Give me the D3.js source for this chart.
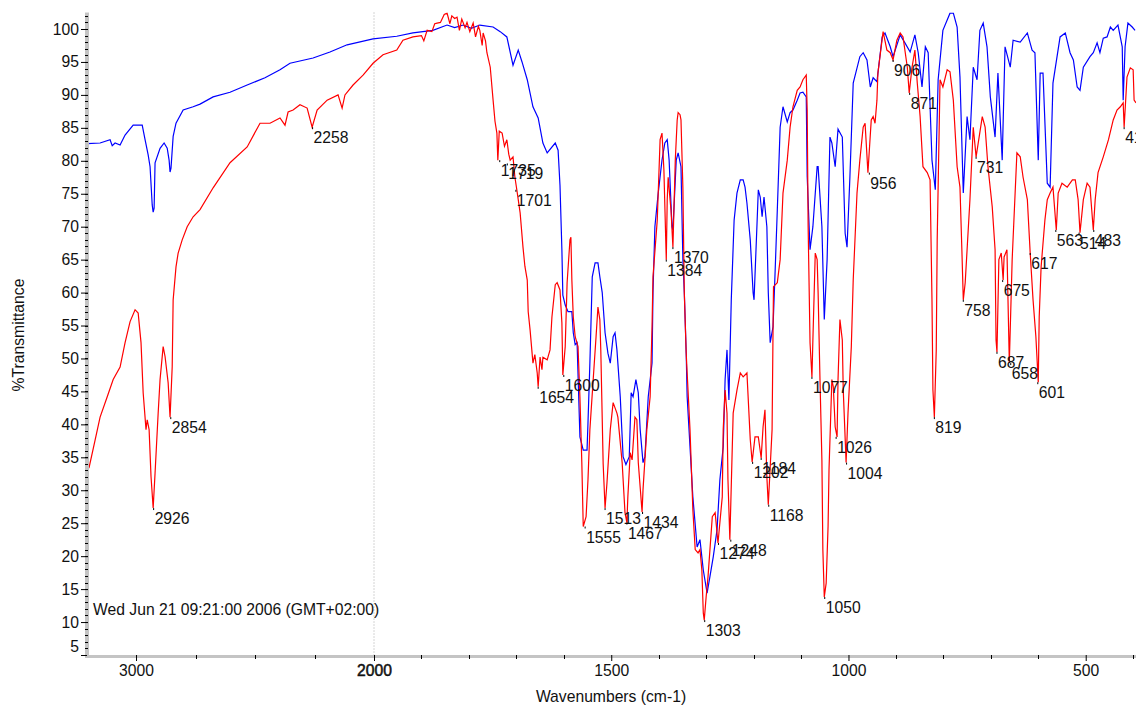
<!DOCTYPE html>
<html>
<head>
<meta charset="utf-8">
<script src="https://cdn.jsdelivr.net/npm/d3@7"></script>
<style>
body { margin: 0; background: #fff; }
svg { display: block; font-family: "Liberation Sans", Arial, sans-serif; }
</style>
</head>
<body>
<svg width="1136" height="706"></svg>
<script>
// Spectra: [wavenumber cm-1, %T]
var blueSpectrum = [
  [3205,82.6],[3151,82.7],[3109,83.2],[3100,82.3],[3088,82.7],[3067,82.4],[3046,83.9],[3012,85.4],[2974,85.4],
  [2962,83.2],[2949,80.9],[2941,79.1],[2932,73.3],[2928,72.2],[2924,72.8],[2920,79.7],[2899,81.9],[2882,82.7],
  [2869,81.9],[2861,80.1],[2857,78.3],[2853,78.9],[2844,83.7],[2832,85.7],[2802,87.7],[2760,88.2],[2731,88.6],
  [2676,89.7],[2605,90.4],[2533,91.5],[2458,92.6],[2395,93.8],[2353,94.8],[2256,95.6],[2185,96.5],[2113,97.6],
  [2004,98.5],[1952,98.9],[1918,99.4],[1876,99.8],[1846,100.6],[1830,100.2],[1812,100.6],[1795,100.1],[1777,100.6],
  [1749,100.3],[1734,99.6],[1720,98.8],[1707,94.5],[1696,96.8],[1688,95.0],[1677,92.3],[1665,88.2],[1654,86.5],
  [1644,82.7],[1635,81.2],[1618,82.7],[1612,81.6],[1608,76.3],[1604,66.5],[1602,59.6],[1597,58.1],[1591,57.1],
  [1583,57.1],[1580,53.9],[1576,52.1],[1572,52.4],[1566,38.1],[1559,36.1],[1551,36.1],[1549,40.2],[1545,49.3],
  [1540,62.4],[1534,64.5],[1528,64.5],[1524,62.4],[1519,60.0],[1513,53.9],[1507,50.8],[1502,49.3],[1496,53.3],
  [1492,53.9],[1488,51.3],[1481,44.2],[1475,35.1],[1469,33.9],[1462,35.1],[1458,44.8],[1454,44.2],[1448,46.8],
  [1443,44.8],[1439,39.2],[1433,34.2],[1429,35.1],[1422,44.2],[1414,49.3],[1412,60.0],[1408,70.0],[1401,75.1],
  [1393,80.1],[1387,82.7],[1382,83.2],[1378,80.1],[1372,70.0],[1370,69.5],[1363,80.1],[1359,81.2],[1353,79.1],
  [1349,65.0],[1346,60.0],[1342,50.8],[1340,44.2],[1334,36.6],[1328,29.0],[1319,21.4],[1313,22.5],[1306,17.9],
  [1298,14.4],[1292,16.9],[1285,19.9],[1277,24.0],[1271,31.6],[1264,36.6],[1260,46.8],[1256,51.3],[1252,43.7],
  [1247,58.9],[1241,71.0],[1235,75.1],[1228,77.1],[1222,77.1],[1218,76.0],[1214,73.6],[1207,68.0],[1201,60.0],
  [1199,58.9],[1193,70.0],[1190,75.6],[1186,74.5],[1182,71.5],[1178,74.5],[1172,70.0],[1169,60.0],[1165,52.4],
  [1159,54.8],[1155,62.4],[1150,72.5],[1144,85.1],[1138,88.2],[1129,85.9],[1123,87.3],[1117,87.7],[1108,89.2],
  [1102,90.3],[1096,90.4],[1089,89.7],[1087,77.6],[1081,66.5],[1075,70.0],[1066,79.1],[1064,79.1],[1056,70.0],
  [1051,55.9],[1045,65.0],[1039,83.6],[1035,82.7],[1028,79.1],[1022,84.8],[1013,83.6],[1007,69.0],[1003,66.9],
  [997,77.5],[990,91.8],[976,95.8],[969,96.4],[961,95.3],[954,91.2],[948,92.6],[940,92.0],[929,98.8],[923,99.4],
  [912,97.3],[906,95.8],[891,99.1],[881,97.9],[870,96.5],[860,99.1],[853,96.4],[845,91.2],[838,97.3],[832,96.4],
  [824,80.1],[817,75.6],[811,92.3],[801,99.8],[786,102.4],[779,102.4],[771,100.3],[765,92.7],[758,75.1],[750,86.7],
  [744,83.2],[737,94.2],[729,92.3],[723,99.8],[716,100.9],[708,97.3],[701,89.7],[691,83.6],[685,93.3],[676,80.1],
  [670,97.3],[659,94.2],[653,98.3],[638,98.0],[623,99.4],[613,96.8],[607,96.4],[600,80.1],[596,93.3],[590,93.3],
  [581,76.6],[575,76.0],[569,91.8],[554,98.8],[543,99.4],[533,96.4],[526,95.3],[518,91.2],[512,90.7],[505,94.2],
  [491,95.8],[484,96.4],[476,97.9],[470,96.4],[463,98.6],[455,98.8],[448,100.3],[442,99.8],[432,100.6],[423,97.3],
  [421,89.2],[417,97.3],[411,100.9],[402,100.3],[396,99.8]
];

var redSpectrum = [
  [3205,33.0],[3197,33.5],[3172,37.6],[3151,41.1],[3121,44.2],[3096,46.8],[3067,48.7],[3046,52.4],[3025,55.6],
  [3004,57.4],[2991,56.9],[2979,52.4],[2970,44.8],[2958,39.2],[2953,40.7],[2945,39.2],[2937,32.1],[2928,27.3],
  [2920,32.6],[2907,41.7],[2899,46.8],[2886,51.8],[2878,50.3],[2865,46.3],[2857,41.1],[2848,48.7],[2844,58.9],
  [2832,63.9],[2823,66.0],[2806,68.0],[2785,70.0],[2760,71.5],[2731,72.6],[2676,75.9],[2605,79.7],[2533,82.1],
  [2479,85.7],[2437,85.7],[2395,86.5],[2374,85.4],[2361,87.4],[2340,87.7],[2311,88.5],[2281,88.0],[2260,85.1],
  [2239,87.7],[2197,89.2],[2151,90.0],[2134,88.0],[2122,90.0],[2088,91.5],[2046,93.0],[2004,94.8],[1981,96.1],
  [1952,96.8],[1939,98.3],[1918,98.8],[1900,99.0],[1895,98.2],[1888,99.8],[1878,99.6],[1872,100.8],[1867,100.9],
  [1860,101.0],[1852,102.2],[1846,102.4],[1840,100.8],[1836,102.0],[1830,101.6],[1825,101.8],[1820,99.8],
  [1815,101.5],[1808,100.2],[1804,101.0],[1798,99.6],[1791,100.9],[1786,98.8],[1780,100.4],[1777,99.8],
  [1772,97.5],[1770,99.4],[1765,98.2],[1762,96.4],[1755,94.2],[1749,89.2],[1745,86.0],[1741,84.2],[1739,80.1],
  [1736,84.5],[1730,84.2],[1725,82.2],[1720,83.2],[1716,81.0],[1713,80.1],[1707,80.6],[1703,77.5],[1699,75.6],
  [1692,72.1],[1686,66.9],[1682,64.0],[1677,61.9],[1675,57.1],[1671,54.3],[1665,49.3],[1661,50.6],[1656,47.8],
  [1654,45.7],[1650,50.2],[1646,48.3],[1644,50.2],[1635,49.8],[1629,51.3],[1625,56.3],[1618,61.2],[1614,61.5],
  [1608,60.4],[1604,55.4],[1602,47.5],[1597,51.8],[1593,61.5],[1587,68.0],[1585,68.4],[1583,61.9],[1580,56.3],
  [1576,53.3],[1570,51.8],[1566,44.2],[1562,34.2],[1559,24.5],[1553,26.0],[1549,31.6],[1545,39.2],[1538,46.8],
  [1532,53.3],[1528,57.8],[1524,55.9],[1522,51.3],[1517,34.0],[1513,27.3],[1509,31.1],[1502,39.2],[1496,43.3],
  [1488,41.7],[1486,41.1],[1477,34.2],[1471,26.6],[1467,25.1],[1465,29.0],[1460,35.7],[1456,34.6],[1450,41.1],
  [1446,40.7],[1443,34.2],[1435,26.7],[1433,30.1],[1425,39.2],[1418,44.2],[1414,54.8],[1412,62.4],[1403,71.0],
  [1397,83.2],[1393,84.2],[1389,78.6],[1384,65.0],[1382,74.1],[1380,77.5],[1376,74.1],[1374,72.5],[1370,66.9],
  [1365,80.1],[1361,86.2],[1359,87.3],[1355,87.0],[1353,86.2],[1349,76.0],[1346,60.0],[1342,50.8],[1340,47.8],
  [1334,39.2],[1328,27.1],[1323,21.0],[1317,20.5],[1313,21.0],[1309,17.9],[1306,11.4],[1304,10.3],[1300,13.8],
  [1296,16.9],[1287,26.0],[1281,26.6],[1275,22.0],[1266,29.0],[1264,39.2],[1260,45.2],[1256,41.7],[1254,31.6],
  [1250,22.5],[1243,41.7],[1235,45.2],[1228,47.8],[1222,47.2],[1214,47.8],[1207,37.7],[1203,34.3],[1197,38.1],
  [1190,38.1],[1184,34.9],[1180,39.6],[1176,42.2],[1172,32.0],[1169,27.8],[1161,39.2],[1159,54.3],[1158,60.9],
  [1150,61.5],[1144,65.0],[1138,75.1],[1129,80.1],[1123,85.1],[1117,88.2],[1108,90.7],[1102,91.2],[1096,92.3],
  [1089,93.0],[1087,87.7],[1085,70.0],[1081,52.4],[1077,47.2],[1075,52.8],[1070,66.0],[1066,65.0],[1064,60.0],
  [1060,46.7],[1056,34.6],[1054,21.0],[1051,13.8],[1047,15.9],[1043,24.5],[1041,33.1],[1035,46.8],[1032,45.7],
  [1028,39.6],[1024,38.1],[1022,46.8],[1018,55.9],[1013,52.8],[1011,45.2],[1005,34.2],[1001,41.7],[994,51.8],
  [990,61.9],[982,75.1],[976,80.1],[969,85.1],[965,85.7],[959,78.2],[952,86.2],[948,86.7],[944,85.7],[940,89.2],
  [938,93.3],[927,99.6],[919,96.8],[912,96.4],[906,95.3],[898,98.3],[891,99.4],[885,98.8],[876,94.2],[872,90.3],
  [866,94.2],[860,96.8],[855,91.8],[849,86.7],[843,79.1],[834,78.2],[828,77.1],[824,58.9],[822,45.2],[819,41.1],
  [815,51.3],[813,68.0],[807,92.3],[801,91.2],[792,93.8],[786,93.5],[779,89.2],[771,79.1],[765,76.0],[761,66.5],
  [758,58.9],[754,61.5],[750,66.5],[744,74.1],[737,85.1],[731,80.6],[718,86.7],[712,85.1],[706,79.1],[697,73.0],
  [691,66.5],[689,52.8],[687,51.0],[683,65.0],[678,66.0],[674,61.9],[672,65.4],[666,66.5],[661,49.3],[655,65.0],
  [645,81.2],[638,80.6],[632,77.5],[623,74.1],[617,66.0],[611,58.9],[605,53.3],[600,46.4],[598,56.3],[594,63.9],
  [586,71.0],[581,74.1],[575,75.1],[569,76.0],[562,69.5],[558,75.1],[550,76.6],[539,76.0],[528,77.1],[522,77.1],
  [516,74.1],[512,69.1],[505,74.1],[497,76.6],[491,76.0],[484,69.5],[480,74.1],[474,78.2],[463,80.6],[452,83.2],
  [442,86.2],[434,87.7],[427,88.2],[421,88.8],[419,85.1],[413,92.7],[406,94.1],[400,93.8],[398,89.2],[394,88.8]
];

// Marked peaks of the red spectrum: label, %T at the tip
var peakLabels = [2926,2854,2258,1735,1719,1701,1654,1600,1555,1513,1467,1434,1384,1370,1303,1274,1248,1202,1184,1168,
  1077,1050,1026,1004,956,906,871,819,758,731,687,675,658,617,601,563,514,483,419];
var peakTransmittance = [27.3,41.1,85.1,80.1,79.6,75.6,45.7,47.5,24.5,27.3,25.1,26.7,65.0,66.9,10.3,22.0,22.5,34.3,34.9,27.8,
  47.2,13.8,38.1,34.2,78.2,95.3,90.3,41.1,58.9,80.6,51.0,61.9,49.3,66.0,46.4,69.5,69.1,69.5,85.1];

var xMajorTicks = [3000, 2000, 1500, 1000, 500];
var xMinorTicks = [2750, 2500, 2250, 1900, 1800, 1700, 1600, 1400, 1300, 1200, 1100, 900, 800, 700, 600, 400];
var yMajorTicks = d3.range(5, 101, 5);
var yMinorTicks = d3.range(5, 103, 1);

var dateStamp = "Wed Jun 21 09:21:00 2006 (GMT+02:00)";

var svg = d3.select('svg');
var svgWidth = +svg.attr('width');
var fontSize = '15.7px';

// Wavenumber axis is compressed by half above 2000 cm-1
var xScale = d3.scaleLinear().domain([3206, 2000, 394]).range([87, 374, 1136]);
var yScale = d3.scaleLinear().domain([5, 100]).range([655, 29]);
var plotLeft = 87, plotTop = yScale(102.5), plotBottom = yScale(5);

svg.append('defs').append('clipPath').attr('id', 'plotClip')
  .append('rect')
  .attr('x', plotLeft).attr('y', plotTop)
  .attr('width', svgWidth - plotLeft).attr('height', plotBottom - plotTop);

// dotted line at the scale break
svg.append('line')
  .attr('x1', xScale(2000)).attr('x2', xScale(2000))
  .attr('y1', plotTop).attr('y2', plotBottom)
  .attr('stroke', '#aaa').attr('stroke-dasharray', '1,2');

var line = d3.line()
  .x(function(d) { return xScale(d[0]); })
  .y(function(d) { return yScale(d[1]); });

var curvesG = svg.append('g').attr('clip-path', 'url(#plotClip)');
curvesG.append('path').datum(blueSpectrum)
  .attr('d', line).attr('fill', 'none').attr('stroke', '#0000ff').attr('stroke-width', 1.2);
curvesG.append('path').datum(redSpectrum)
  .attr('d', line).attr('fill', 'none').attr('stroke', '#ff0000').attr('stroke-width', 1.2);

// peak markers and labels
var peaks = peakLabels.map(function(p, i) { return {wn: p, t: peakTransmittance[i]}; });
var peakG = svg.selectAll('.peak').data(peaks).enter().append('g').attr('class', 'peak')
  .attr('transform', function(d) { return 'translate(' + [xScale(d.wn), yScale(d.t)] + ')'; });
peakG.append('line').attr('x1', 0).attr('x2', 0).attr('y1', 0).attr('y2', 2)
  .attr('stroke', '#000').attr('stroke-width', 1);
peakG.append('text')
  .attr('x', 1).attr('y', 16)
  .style('font-size', fontSize).attr('fill', '#111')
  .text(function(d) { return d.wn; });

// left axis
svg.append('rect').attr('x', 85).attr('y', plotTop).attr('width', 4).attr('height', plotBottom - plotTop + 3)
  .attr('fill', '#c4c4c4');
svg.append('g').selectAll('line').data(yMinorTicks).enter().append('line')
  .attr('x1', 85).attr('x2', 88)
  .attr('y1', function(d) { return Math.round(yScale(d)) + 0.5; })
  .attr('y2', function(d) { return Math.round(yScale(d)) + 0.5; })
  .attr('stroke', '#000');
var yAxisG = svg.append('g').attr('transform', 'translate(88,0)')
  .call(d3.axisLeft(yScale).tickValues(yMajorTicks).tickSize(7).tickPadding(2));
yAxisG.select('.domain').remove();
yAxisG.selectAll('.tick text').style('font-size', fontSize).attr('fill', '#111')
  .attr('dy', function(d) { return d === 5 ? '-0.2em' : '0.32em'; });

// bottom axis
svg.append('rect').attr('x', plotLeft).attr('y', 655).attr('width', svgWidth - plotLeft).attr('height', 3)
  .attr('fill', '#c4c4c4');
svg.append('g').selectAll('line').data(xMinorTicks).enter().append('line')
  .attr('x1', function(d) { return Math.round(xScale(d)) + 0.5; })
  .attr('x2', function(d) { return Math.round(xScale(d)) + 0.5; })
  .attr('y1', 655).attr('y2', 659).attr('stroke', '#000');
var xAxisG = svg.append('g').attr('transform', 'translate(0,655)')
  .call(d3.axisBottom(xScale).tickValues(xMajorTicks).tickSize(6).tickPadding(4).tickFormat(d3.format('d')));
xAxisG.select('.domain').remove();
xAxisG.selectAll('.tick text').style('font-size', fontSize).attr('fill', '#111')
  .attr('stroke', function(d) { return d === 2000 ? '#111' : null; })
  .attr('stroke-width', 0.5);

// titles
svg.append('text')
  .attr('x', 611).attr('y', 702)
  .attr('text-anchor', 'middle').style('font-size', fontSize).attr('fill', '#111')
  .text('Wavenumbers (cm-1)');
svg.append('text')
  .attr('transform', 'translate(24,335) rotate(-90)')
  .attr('text-anchor', 'middle').style('font-size', fontSize).attr('fill', '#111')
  .text('%Transmittance');
svg.append('text')
  .attr('x', 93).attr('y', 615)
  .style('font-size', fontSize).attr('fill', '#111')
  .text(dateStamp);
</script>
</body>
</html>
